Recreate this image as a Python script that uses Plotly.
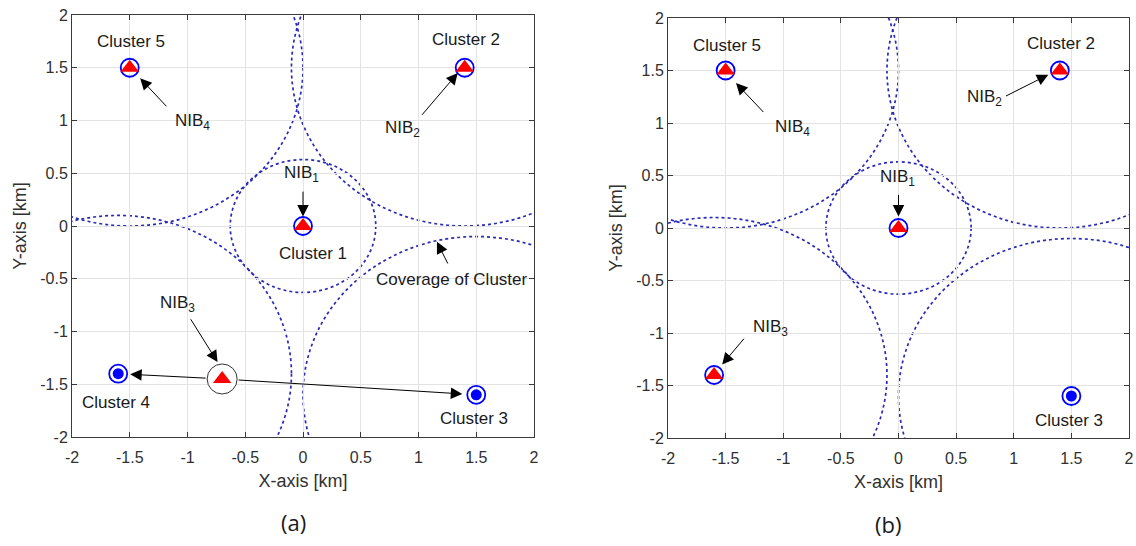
import plotly.graph_objects as go

# ---------------- data ----------------
cluster_names = ["Cluster 1", "Cluster 2", "Cluster 3", "Cluster 4", "Cluster 5"]
cluster_x = [0.0, 1.4, 1.5, -1.6, -1.5]
cluster_y = [0.0, 1.5, -1.6, -1.4, 1.5]
coverage_r = [0.63, 1.5, 1.5, 1.5, 1.5]

nib_names = ["NIB<sub>1</sub>", "NIB<sub>2</sub>", "NIB<sub>3</sub>", "NIB<sub>4</sub>"]
nib_a_x = [0.0, 1.4, -0.7, -1.5]
nib_a_y = [0.0, 1.5, -1.45, 1.5]
nib_b_x = [0.0, 1.4, -1.6, -1.5]
nib_b_y = [0.0, 1.5, -1.4, 1.5]

unserved_a = [2, 3]   # cluster indices without NIB in (a)
unserved_b = [2]      # cluster indices without NIB in (b)
moving_nib_a = 2      # NIB3 relocating in (a)

tick_vals = [-2, -1.5, -1, -0.5, 0, 0.5, 1, 1.5, 2]
tick_text = ["-2", "-1.5", "-1", "-0.5", "0", "0.5", "1", "1.5", "2"]

FONT = "Liberation Sans, Arial, sans-serif"
TXT = "#303030"
BLUE = "#0000ff"
CIRC = "#2a2ab8"

fig = go.Figure()

panels = [
    ("x", "y", nib_a_x, nib_a_y, unserved_a),
    ("x2", "y2", nib_b_x, nib_b_y, unserved_b),
]

for xa, ya, nx, ny, unserved in panels:
    fig.add_trace(go.Scatter(
        x=cluster_x, y=cluster_y, mode="markers", xaxis=xa, yaxis=ya,
        marker=dict(symbol="circle-open", size=18, color=BLUE, line=dict(width=1.8, color=BLUE)),
        showlegend=False, hoverinfo="skip"))
    fig.add_trace(go.Scatter(
        x=[cluster_x[i] for i in unserved], y=[cluster_y[i] for i in unserved],
        mode="markers", xaxis=xa, yaxis=ya,
        marker=dict(symbol="circle", size=11, color=BLUE),
        showlegend=False, hoverinfo="skip"))

fig.add_trace(go.Scatter(
    x=[nib_a_x[moving_nib_a]], y=[nib_a_y[moving_nib_a]], mode="markers", xaxis="x", yaxis="y",
    marker=dict(symbol="circle", size=30, color="white", line=dict(width=1, color="#333333")),
    showlegend=False, hoverinfo="skip"))

for xa, ya, nx, ny, unserved in panels:
    fig.add_trace(go.Scatter(
        x=nx, y=ny, mode="markers", xaxis=xa, yaxis=ya,
        marker=dict(symbol="triangle-up", size=16, color="#ff0000", line=dict(width=0)),
        showlegend=False, hoverinfo="skip"))

shapes = []
for xr, yr in [("x", "y"), ("x2", "y2")]:
    for cx, cy, r in zip(cluster_x, cluster_y, coverage_r):
        shapes.append(dict(type="circle", xref=xr, yref=yr,
                           x0=cx - r, x1=cx + r, y0=cy - r, y1=cy + r,
                           line=dict(color=CIRC, width=1.7, dash="dot"), layer="below"))

annotations = []

def label(text, x, y, xr, yr):
    annotations.append(dict(text=text, x=x, y=y, xref=xr, yref=yr, showarrow=False,
                            font=dict(family=FONT, size=17, color="#1a1a1a")))

def arrow(x, y, ax, ay, xr, yr, standoff=0, startstandoff=0):
    annotations.append(dict(text="", x=x, y=y, ax=ax, ay=ay, xref=xr, yref=yr,
                            axref=xr, ayref=yr, showarrow=True, arrowhead=2,
                            arrowsize=2.3, arrowwidth=1, arrowcolor="black",
                            standoff=standoff, startstandoff=startstandoff))

# ---- panel (a) ----
label(cluster_names[4], -1.49, 1.75, "x", "y")
label(cluster_names[1], 1.41, 1.77, "x", "y")
label(cluster_names[0], 0.09, -0.26, "x", "y")
label(cluster_names[3], -1.62, -1.67, "x", "y")
label(cluster_names[2], 1.48, -1.82, "x", "y")
label("Coverage of Cluster", 1.29, -0.51, "x", "y")
label(nib_names[3], -0.96, 0.99, "x", "y")
label(nib_names[1], 0.86, 0.92, "x", "y")
label(nib_names[0], -0.01, 0.49, "x", "y")
label(nib_names[2], -1.09, -0.74, "x", "y")

arrow(-1.41, 1.40, -1.17, 1.12, "x", "y")
arrow(1.34, 1.45, 1.02, 1.04, "x", "y")
arrow(0.0, 0.09, 0.0, 0.34, "x", "y")
arrow(-0.74, -1.29, -0.98, -0.87, "x", "y")
arrow(1.16, -0.15, 1.26, -0.37, "x", "y")
arrow(cluster_x[3], cluster_y[3], nib_a_x[moving_nib_a], nib_a_y[moving_nib_a], "x", "y",
      standoff=12, startstandoff=15)
arrow(cluster_x[2], cluster_y[2], nib_a_x[moving_nib_a], nib_a_y[moving_nib_a], "x", "y",
      standoff=14, startstandoff=15)

# ---- panel (b) ----
label(cluster_names[4], -1.49, 1.74, "x2", "y2")
label(cluster_names[1], 1.41, 1.76, "x2", "y2")
label(cluster_names[2], 1.48, -1.83, "x2", "y2")
label(nib_names[3], -0.92, 0.95, "x2", "y2")
label(nib_names[1], 0.75, 1.24, "x2", "y2")
label(nib_names[0], -0.01, 0.48, "x2", "y2")
label(nib_names[2], -1.11, -0.95, "x2", "y2")

arrow(-1.41, 1.38, -1.16, 1.09, "x2", "y2")
arrow(1.30, 1.46, 0.92, 1.25, "x2", "y2")
arrow(0.0, 0.11, 0.0, 0.33, "x2", "y2")
arrow(-1.53, -1.30, -1.33, -1.04, "x2", "y2")

annotations.append(dict(text="(a)", x=293 / 1136, y=1 - 522 / 546, xref="paper", yref="paper",
                        xanchor="center", yanchor="middle", showarrow=False,
                        font=dict(family="Open Sans, sans-serif", size=22, color="#1a1a1a")))
annotations.append(dict(text="(b)", x=888 / 1136, y=1 - 524 / 546, xref="paper", yref="paper",
                        xanchor="center", yanchor="middle", showarrow=False,
                        font=dict(family="Open Sans, sans-serif", size=22, color="#1a1a1a")))

axis_common = dict(range=[-2, 2], tickmode="array", tickvals=tick_vals, ticktext=tick_text,
                   showgrid=True, gridcolor="#e3e3e3", gridwidth=1, zeroline=False,
                   showline=True, linecolor="#3a3a3a", linewidth=1, mirror="ticks",
                   ticks="inside", ticklen=5, tickcolor="#3a3a3a", automargin=False,
                   ticklabeloverflow="allow",
                   tickfont=dict(family=FONT, size=16, color=TXT))

def xax(domain, anchor):
    d = dict(axis_common)
    d.update(domain=domain, anchor=anchor, ticklabelstandoff=6,
             title=dict(text="X-axis [km]", font=dict(family=FONT, size=18, color=TXT), standoff=9))
    return d

def yax(domain, anchor):
    d = dict(axis_common)
    d.update(domain=domain, anchor=anchor,
             title=dict(text="Y-axis [km]", font=dict(family=FONT, size=18, color=TXT), standoff=8))
    return d

fig.update_layout(
    width=1136, height=546,
    margin=dict(l=0, r=0, t=0, b=0),
    paper_bgcolor="white", plot_bgcolor="white",
    xaxis=xax([72 / 1136, 534 / 1136], "y"),
    yaxis=yax([(546 - 437) / 546, (546 - 15) / 546], "x"),
    xaxis2=xax([668 / 1136, 1129 / 1136], "y2"),
    yaxis2=yax([(546 - 438) / 546, (546 - 18) / 546], "x2"),
    shapes=shapes,
    annotations=annotations,
    showlegend=False,
)

fig.write_html("out.html", config={"displayModeBar": False},
               post_script="document.body.style.margin='0';document.body.style.overflow='hidden';")
